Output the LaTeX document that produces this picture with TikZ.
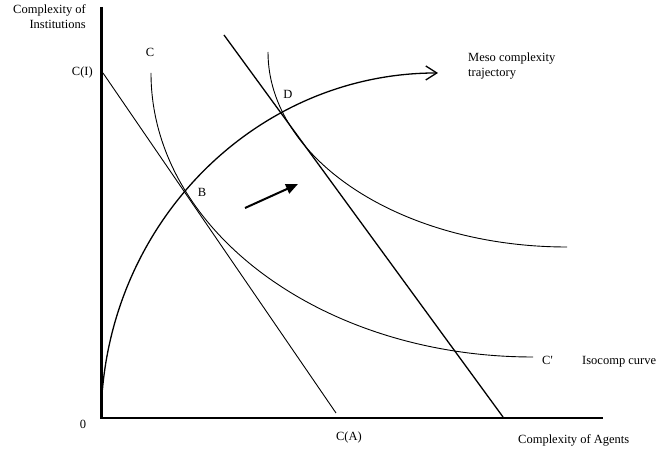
\documentclass[tikz,border=0pt]{standalone}
\usepackage{fontspec}
\setmainfont{Liberation Serif}
\usetikzlibrary{arrows.meta}
\begin{document}
\begin{tikzpicture}[x=1pt,y=1pt,
  lbl/.style={inner sep=0pt, font=\fontsize{12.5}{15}\selectfont},
  axisline/.style={line width=2.7pt, line join=miter},
  thinline/.style={line width=0.9pt},
  medline/.style={line width=1.3pt},
  ]
\useasboundingbox (0,0) rectangle (657,450);
% axes
\coordinate (ytop) at (101.5,443);
\coordinate (orig) at (101.5,32);
\coordinate (xend) at (603,32);
\draw[axisline] (ytop) -- (orig) -- (xend);
% budget lines
\coordinate (ciTop) at (103,377);
\coordinate (caBot) at (336,37);
\draw[thinline] (ciTop) -- (caBot);
\coordinate (l2Top) at (224,415);
\coordinate (l2Bot) at (503,33);
\draw[medline] (l2Top) -- (l2Bot);
% isocomp curves
\coordinate (cStart) at (151,377);
\draw[thinline] (cStart) arc[start angle=180,end angle=270,x radius=382pt,y radius=284pt];
\coordinate (dStart) at (268,398);
\draw[thinline] (dStart) arc[start angle=180,end angle=270,x radius=299pt,y radius=195pt];
% trajectory
\coordinate (tStart) at (102.4,60.1);
\draw[medline,-{Straight Barb[length=11pt,width=14pt]}] (tStart) arc[start angle=174.8,end angle=90,x radius=337pt,y radius=348.5pt];
% shift arrow
\coordinate (aS) at (245,242);
\coordinate (aE) at (298,266);
\draw[line width=2pt,-{Triangle[length=12pt,width=10pt]}] (aS) -- (aE);
% labels
\node[lbl,anchor=base east] (yl1) at (86,436) {Complexity of};
\node[lbl,anchor=base east] (yl2) at (86,421) {Institutions};
\node[lbl,anchor=base east] (ci) at (93,374) {C(I)};
\node[lbl,anchor=base] (clab) at (150,393) {C};
\node[lbl,anchor=base] (dlab) at (288,351) {D};
\node[lbl,anchor=base] (blab) at (202,253) {B};
\node[lbl,anchor=base west] (meso1) at (468,388) {Meso complexity};
\node[lbl,anchor=base west] (meso2) at (468,373) {trajectory};
\node[lbl,anchor=base west] (cprime) at (542,85) {C\textquotesingle};
\node[lbl,anchor=base west] (iso) at (582,85) {Isocomp curve};
\node[lbl,anchor=base] (zero) at (83,21) {0};
\node[lbl,anchor=base] (ca) at (349,9) {C(A)};
\node[lbl,anchor=base west] (xl) at (518,6) {Complexity of Agents};
\end{tikzpicture}
\end{document}
